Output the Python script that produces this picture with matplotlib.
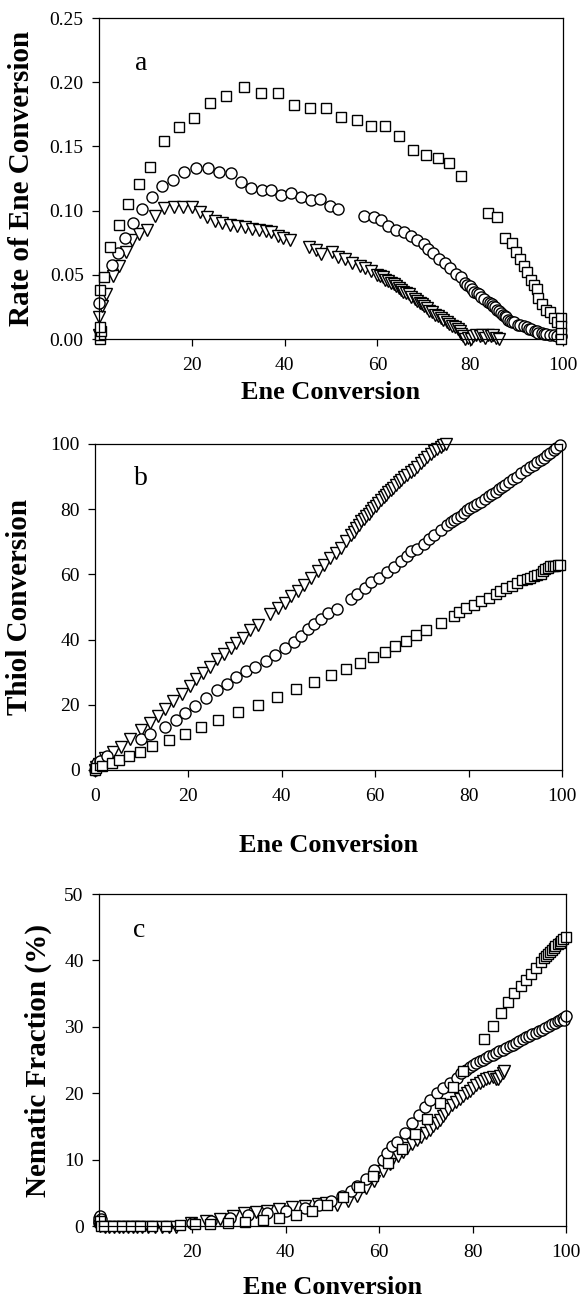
import matplotlib
matplotlib.use('Agg')
import matplotlib.pyplot as plt
from matplotlib.ticker import FormatStrFormatter

plt.rcParams['font.family'] = ['Liberation Serif', 'DejaVu Serif']

# ---- panel a: rate of ene conversion vs ene conversion
a_sq_x = [0.2, 0.3, 0.5, 0.3, 0.2, 1.0, 2.4, 4.3, 6.3, 8.6, 11.0, 14.0, 17.3, 20.5, 24.0, 27.4, 31.3,
          34.9, 38.6, 42.0, 45.4, 48.9, 52.1, 55.5, 58.6, 61.6, 64.7, 67.6, 70.4, 73.0, 75.4, 77.9,
          83.9, 85.8, 87.4, 88.9, 89.9, 90.7, 91.6, 92.3, 93.1, 93.8, 94.3, 94.7, 95.5, 96.4, 97.2,
          98.0, 98.8, 99.6, 99.6, 99.6, 99.6]
a_sq_y = [0.000, 0.003, 0.006, 0.009, 0.038, 0.048, 0.072, 0.089, 0.105, 0.121, 0.134, 0.154, 0.165,
          0.172, 0.184, 0.189, 0.196, 0.192, 0.192, 0.182, 0.180, 0.180, 0.173, 0.171, 0.166, 0.166,
          0.158, 0.147, 0.143, 0.141, 0.137, 0.127, 0.098, 0.095, 0.079, 0.075, 0.068, 0.062, 0.057,
          0.052, 0.046, 0.042, 0.039, 0.032, 0.027, 0.023, 0.021, 0.016, 0.013, 0.016, 0.010, 0.005,
          0.000]

a_ci_x = [0.0, 2.7, 4.0, 5.5, 7.3, 9.2, 11.4, 13.6, 15.9, 18.3, 20.9, 23.4, 25.8, 28.4, 30.7, 32.7,
          35.1, 37.1, 39.2, 41.4, 43.5, 45.7, 47.7, 49.7, 51.6,
          57.0, 59.2, 60.7, 62.3, 63.9, 65.7, 67.2, 68.6, 70.0, 71.0, 72.0, 73.2, 74.5, 75.7, 76.9,
          77.9, 78.9, 79.4, 79.9, 80.4, 80.9, 81.4, 81.9, 82.4, 83.0, 83.8, 84.2, 84.6, 85.0, 85.4,
          85.8, 86.2, 86.6, 87.0, 87.4, 87.8, 88.2, 88.6, 89.0, 89.5, 90.3, 90.8, 91.5, 92.3, 92.7,
          93.1, 93.9, 94.3, 94.7, 95.5, 96.0, 96.4, 97.2, 98.0, 98.8, 99.6]
a_ci_y = [0.028, 0.058, 0.067, 0.079, 0.090, 0.101, 0.111, 0.119, 0.124, 0.130, 0.133, 0.133, 0.130,
          0.129, 0.122, 0.118, 0.116, 0.116, 0.112, 0.114, 0.111, 0.108, 0.109, 0.104, 0.101,
          0.096, 0.095, 0.093, 0.088, 0.085, 0.083, 0.080, 0.077, 0.074, 0.070, 0.067, 0.062, 0.059,
          0.055, 0.051, 0.048, 0.044, 0.042, 0.041, 0.039, 0.037, 0.036, 0.035, 0.033, 0.031, 0.029,
          0.028, 0.027, 0.026, 0.025, 0.023, 0.022, 0.020, 0.019, 0.018, 0.017, 0.015, 0.014, 0.013,
          0.013, 0.011, 0.011, 0.010, 0.009, 0.008, 0.008, 0.006, 0.006, 0.005, 0.005, 0.004, 0.004,
          0.003, 0.003, 0.002, 0.002]

a_tr_x = [0.0, 0.0, 0.6, 1.5, 3.1, 4.3, 5.9, 7.0, 8.6, 10.4, 12.0, 14.0, 16.1, 18.1, 20.1, 21.7, 23.2,
          25.0, 26.6, 28.2, 29.8, 31.4, 32.9, 34.5, 35.9, 37.1, 38.6, 39.7, 41.2,
          45.3, 46.7, 47.8, 50.1, 51.6, 53.0, 54.6, 56.2, 57.4, 58.6, 59.9, 60.5, 61.1, 61.7, 62.3,
          62.9, 63.5, 64.0, 64.6, 65.0, 65.5, 66.1, 66.7, 67.3, 68.0, 68.6, 69.2, 69.6, 70.0, 70.6,
          71.2, 71.8, 72.4, 73.0, 73.6, 74.2, 74.9, 75.5, 76.1, 76.7, 77.3, 77.7, 78.1, 78.5, 78.9,
          79.5, 80.1, 80.7, 81.3, 82.0, 82.6, 83.2, 83.8, 84.4, 85.0, 85.6, 86.2]
a_tr_y = [0.003, 0.017, 0.026, 0.035, 0.049, 0.057, 0.068, 0.077, 0.082, 0.085, 0.096, 0.102, 0.103,
          0.103, 0.103, 0.099, 0.095, 0.092, 0.090, 0.089, 0.088, 0.087, 0.086, 0.085, 0.084, 0.083,
          0.080, 0.079, 0.077,
          0.072, 0.069, 0.066, 0.068, 0.064, 0.062, 0.059, 0.057, 0.055, 0.053, 0.050, 0.049, 0.048,
          0.046, 0.045, 0.044, 0.043, 0.041, 0.040, 0.038, 0.037, 0.036, 0.035, 0.033, 0.031, 0.030,
          0.028, 0.027, 0.026, 0.024, 0.022, 0.021, 0.019, 0.018, 0.016, 0.015, 0.013, 0.012, 0.010,
          0.009, 0.008, 0.006, 0.004, 0.002, 0.000, 0.001, 0.000, 0.002, 0.003, 0.002, 0.003, 0.001,
          0.003, 0.002, 0.003, 0.001, 0.000]

# ---- panel b: thiol conversion vs ene conversion
b_sq_x = [0.0, 0.3, 1.4, 3.6, 5.2, 7.2, 9.6, 12.2, 15.8, 19.2, 22.8, 26.4, 30.7, 35.0, 38.9, 43.0,
          47.0, 50.5, 53.8, 56.7, 59.5, 62.0, 64.3, 66.5, 68.7, 70.8, 74.0, 76.9, 77.9, 79.4, 81.1,
          82.7, 84.3, 85.8, 86.8, 88.1, 89.3, 90.4, 91.5, 92.5, 93.2, 94.0, 94.7, 95.4, 95.9, 96.4,
          97.0, 97.5, 98.0, 98.6, 99.1, 99.6]
b_sq_y = [0.0, 0.5, 1.2, 2.0, 3.0, 4.3, 5.5, 7.3, 9.1, 10.9, 13.2, 15.2, 17.7, 20.0, 22.3, 24.8,
          27.0, 29.0, 31.1, 32.7, 34.6, 36.3, 38.0, 39.5, 41.5, 42.9, 45.1, 47.3, 48.4, 49.7, 50.7,
          51.7, 52.8, 54.1, 54.8, 55.8, 56.5, 57.3, 58.2, 58.6, 59.0, 59.4, 59.8, 60.2, 60.9, 61.6,
          62.0, 62.4, 62.5, 62.7, 62.8, 63.0]

b_ci_x = [0.0, 0.2, 0.5, 1.0, 2.6, 9.8, 11.8, 15.0, 17.3, 19.2, 21.5, 23.7, 26.1, 28.3, 30.3, 32.3,
          34.3, 36.6, 38.5, 40.6, 42.6, 44.1, 45.6, 47.0, 48.3, 49.8, 51.8,
          54.8, 56.2, 57.8, 59.1, 60.9, 62.6, 64.1, 65.5, 66.9, 67.6, 69.0, 70.5, 71.5, 72.6, 74.0,
          75.4, 76.2, 76.9, 77.6, 78.3, 79.0, 79.7, 80.4, 81.1, 81.9, 82.7, 83.5, 84.3, 85.0, 85.8,
          86.5, 87.2, 87.9, 88.6, 89.5, 90.4, 91.3, 92.2, 93.1, 94.0, 94.7, 95.4, 96.1, 96.8, 97.5,
          98.2, 98.8, 99.5]
b_ci_y = [0.0, 1.0, 2.0, 2.6, 4.3, 9.5, 10.9, 13.2, 15.4, 17.5, 19.7, 22.0, 24.4, 26.4, 28.4, 30.2,
          31.7, 33.5, 35.3, 37.3, 39.2, 41.0, 43.1, 44.9, 46.3, 48.2, 49.4,
          52.4, 54.1, 55.8, 57.6, 58.9, 60.6, 62.2, 64.0, 65.7, 67.0, 67.8, 69.4, 70.8, 72.1, 73.7,
          75.2, 75.9, 76.7, 77.2, 77.8, 78.7, 79.6, 80.3, 81.0, 81.6, 82.3, 83.1, 83.9, 84.6, 85.4,
          86.2, 86.9, 87.5, 88.2, 89.1, 90.0, 91.0, 92.0, 92.8, 93.6, 94.3, 95.1, 95.8, 96.6, 97.3,
          98.0, 98.8, 99.7]

b_tr_x = [0.0, 0.3, 0.8, 2.2, 3.8, 5.5, 7.4, 9.8, 11.7, 13.4, 15.0, 16.8, 18.6, 20.3, 21.7, 23.2,
          24.7, 26.1, 27.7, 29.1, 30.3, 31.7, 33.3, 34.9,
          37.4, 39.1, 40.7, 42.0, 43.4, 44.8, 46.3, 47.7, 49.1, 50.4, 51.6, 52.7, 53.7, 54.8, 55.5,
          55.9, 56.5, 56.9, 57.5, 58.0, 58.6, 59.1, 59.6, 60.1, 60.7, 61.2, 61.8, 62.3, 62.8, 63.3,
          63.9, 64.4, 65.0, 65.5, 66.2, 66.9, 67.6, 68.3, 69.0, 69.8, 70.5, 71.2, 71.9, 72.6, 73.3,
          74.0, 74.6, 75.1]
b_tr_y = [0.0, 0.8, 1.8, 3.8, 5.5, 7.1, 9.5, 12.2, 14.4, 16.6, 18.7, 21.2, 23.4, 25.6, 27.8, 29.8,
          31.7, 33.9, 35.5, 37.3, 38.8, 40.6, 42.8, 44.6,
          47.7, 49.7, 51.2, 53.3, 54.8, 56.8, 58.9, 60.9, 63.0, 65.0, 66.5, 68.1, 70.1, 72.1, 73.0,
          74.2, 75.1, 76.2, 77.0, 77.8, 78.6, 79.3, 80.2, 81.0, 81.9, 82.9, 83.6, 84.4, 85.2, 85.9,
          86.6, 87.4, 88.2, 89.0, 89.8, 90.5, 91.3, 92.0, 93.0, 94.1, 95.1, 96.1, 96.9, 97.7, 98.4,
          99.2, 99.7, 100.0]

# ---- panel c: nematic fraction vs ene conversion
c_sq_x = [0.3, 0.5, 1.0, 2.9, 4.9, 6.8, 8.8, 11.3, 14.4, 17.4, 20.5, 23.8, 27.6, 31.3, 35.1, 38.6,
          42.2, 45.6, 48.9, 52.3, 55.7, 58.7, 61.8, 64.9, 67.7, 70.2, 73.0, 75.7, 78.0,
          82.4, 84.3, 86.1, 87.5, 88.9, 90.3, 91.4, 92.4, 93.5, 94.6, 95.3, 95.8, 96.2, 96.6, 97.0,
          97.4, 97.7, 98.2, 98.6, 99.0, 99.3, 99.9]
c_sq_y = [0.8, 0.0, 0.0, 0.0, 0.0, 0.0, 0.0, 0.0, 0.05, 0.15, 0.25, 0.35, 0.5, 0.65, 0.85, 1.15,
          1.65, 2.25, 3.15, 4.35, 5.85, 7.5, 9.5, 11.6, 13.9, 16.1, 18.6, 21.0, 23.4,
          28.1, 30.1, 32.1, 33.7, 35.1, 36.2, 37.1, 38.0, 38.9, 39.7, 40.3, 40.6, 40.9, 41.3, 41.6,
          41.9, 42.2, 42.5, 42.7, 43.0, 43.2, 43.6]

c_ci_x = [0.0, 0.0, 0.1, 0.2, 0.4, 20.0, 24.0, 28.0, 32.0, 36.0, 40.0, 44.0, 47.0, 49.7, 52.0, 54.0,
          55.3, 57.2, 58.8, 60.8, 61.7, 62.8, 63.9, 65.6, 67.0, 68.5, 69.9, 70.9, 72.3, 73.7, 75.2,
          76.6, 77.6, 78.5, 79.4, 80.1, 80.8, 81.5, 82.2, 82.9, 83.6, 84.3, 85.0, 85.7, 86.5, 87.2,
          87.9, 88.6, 89.3, 90.0, 90.7, 91.4, 92.1, 92.8, 93.5, 94.2, 94.9, 95.6, 96.3, 97.0, 97.7,
          98.2, 98.8, 99.3, 99.6, 99.9]
c_ci_y = [0.4, 0.8, 1.2, 1.5, 1.0, 0.5, 0.8, 1.2, 1.6, 2.0, 2.3, 2.7, 3.1, 3.75, 4.5, 5.3,
          6.0, 7.15, 8.5, 9.9, 11.0, 12.0, 12.6, 14.0, 15.5, 16.7, 18.0, 19.0, 20.0, 20.8, 21.6,
          22.3, 23.0, 23.5, 24.0, 24.3, 24.5, 24.8, 25.0, 25.3, 25.6, 25.8, 26.0, 26.3, 26.5, 26.8,
          27.1, 27.3, 27.6, 27.9, 28.1, 28.4, 28.6, 28.9, 29.1, 29.4, 29.6, 29.9, 30.1, 30.4, 30.6,
          30.9, 31.1, 31.3, 31.0, 31.7]

c_tr_x = [0.3, 1.2, 2.2, 3.2, 4.2, 5.2, 6.2, 7.2, 8.2, 9.2, 10.5, 12.0, 13.5, 15.0, 16.5, 19.7,
          23.0, 25.9, 28.7, 31.1, 33.6, 36.0, 38.5, 41.3, 44.0, 46.8, 48.5, 50.9, 53.3, 55.3, 57.2,
          58.8, 60.8, 62.4, 64.0, 65.0, 66.0, 67.0, 68.0, 69.0, 70.0, 70.8, 71.6, 72.3, 73.0, 73.6,
          74.1, 74.8, 75.5, 76.4, 77.3, 78.0, 78.7, 79.4, 80.1, 80.8, 81.5, 82.2, 82.9, 83.6, 84.3,
          84.9, 85.4, 85.9, 86.4, 86.8]
c_tr_y = [0.0, -0.2, -0.2, -0.2, -0.2, -0.2, -0.2, -0.2, -0.2, -0.2, -0.2, -0.2, -0.2, -0.2, -0.1, 0.4,
          0.75, 1.1, 1.5, 1.9, 2.1, 2.3, 2.5, 2.8, 3.0, 3.3, 3.4, 3.2, 3.7, 4.6, 5.7,
          6.8, 8.3, 9.3, 10.5, 11.2, 11.8, 12.4, 12.9, 13.4, 14.0, 14.5, 15.0, 15.5, 16.0, 16.6,
          17.0, 17.6, 18.2, 18.7, 19.2, 19.6, 20.0, 20.4, 20.8, 21.2, 21.5, 21.8, 22.1, 22.3, 22.4,
          22.2, 22.1, 22.6, 23.0, 23.3]

mk = dict(ls='none', mfc='white', mec='black', mew=1.0, clip_on=False)


def draw(ax, tx, ty, cx, cy, sx, sy):
    ax.plot(tx, ty, marker='v', ms=8, **mk)
    ax.plot(cx, cy, marker='o', ms=8, **mk)
    ax.plot(sx, sy, marker='s', ms=7, **mk)
    ax.set_xlim(0, 100)
    for s in ax.spines.values():
        s.set_linewidth(0.9)
    ax.tick_params(direction='out', length=5, width=0.9, labelsize=14, top=False, right=False)
    ax.tick_params(axis='x', pad=8)
    ax.tick_params(axis='y', pad=6)


def xlab(ax, ypos):
    ax.set_xlabel('Ene Conversion', fontsize=19, fontweight='bold')
    ax.xaxis.label.set_va('baseline')
    ax.xaxis.set_label_coords(0.5, ypos)


fig = plt.figure(figsize=(5.87, 13.01), dpi=100)

ax_a = fig.add_axes([0.1687, 0.7394, 0.7905, 0.2467])
draw(ax_a, a_tr_x, a_tr_y, a_ci_x, a_ci_y, a_sq_x, a_sq_y)
ax_a.set_ylim(0, 0.25)
ax_a.set_yticks([0, 0.05, 0.10, 0.15, 0.20, 0.25])
ax_a.yaxis.set_major_formatter(FormatStrFormatter('%.2f'))
ax_a.set_xticks([20, 40, 60, 80, 100])
ax_a.set_ylabel('Rate of Ene Conversion', fontsize=21, fontweight='bold')
ax_a.yaxis.set_label_coords(-0.138, 0.5)
xlab(ax_a, -0.187)
ax_a.text(0.09, 0.86, 'a', transform=ax_a.transAxes, fontsize=20, ha='center', va='center')

ax_b = fig.add_axes([0.1618, 0.4082, 0.7956, 0.2506])
draw(ax_b, b_tr_x, b_tr_y, b_ci_x, b_ci_y, b_sq_x, b_sq_y)
ax_b.set_ylim(0, 100)
ax_b.set_yticks([0, 20, 40, 60, 80, 100])
ax_b.set_xticks([0, 20, 40, 60, 80, 100])
ax_b.set_ylabel('Thiol Conversion', fontsize=21, fontweight='bold')
ax_b.yaxis.set_label_coords(-0.133, 0.5)
xlab(ax_b, -0.252)
ax_b.text(0.098, 0.895, 'b', transform=ax_b.transAxes, fontsize=20, ha='center', va='center')

ax_c = fig.add_axes([0.1687, 0.0576, 0.7956, 0.2552])
draw(ax_c, c_tr_x, c_tr_y, c_ci_x, c_ci_y, c_sq_x, c_sq_y)
ax_c.set_ylim(0, 50)
ax_c.set_yticks([0, 10, 20, 30, 40, 50])
ax_c.set_xticks([20, 40, 60, 80, 100])
ax_c.set_ylabel('Nematic Fraction (%)', fontsize=21, fontweight='bold')
ax_c.yaxis.set_label_coords(-0.10, 0.5)
xlab(ax_c, -0.205)
ax_c.text(0.085, 0.89, 'c', transform=ax_c.transAxes, fontsize=20, ha='center', va='center')

fig.savefig('out.png', dpi=100)
